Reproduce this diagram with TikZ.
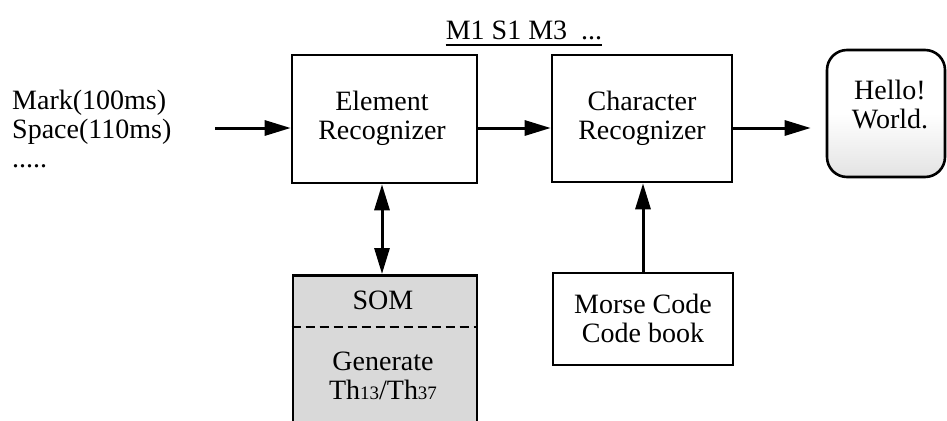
\documentclass[tikz,border=0pt]{standalone}
\usepackage{fontspec}
\setmainfont{Liberation Serif}
\usetikzlibrary{arrows.meta}
\begin{document}
\begin{tikzpicture}[x=1pt,y=-1pt,
  every node/.style={font=\fontsize{28}{29}\selectfont},
  blockbox/.style={draw,line width=2.6pt},
  conn/.style={line width=3pt,-{Triangle[length=26pt,width=15pt]}},
  lbl/.style={inner sep=0pt,align=center}]
\clip (0,0) rectangle (947,420);
\fill[white] (0,0) rectangle (947,420);
% boxes
\node[blockbox,minimum width=185pt,minimum height=128pt,inner sep=0pt] (er) at (384.5,119) {};
\node[blockbox,minimum width=180pt,minimum height=127pt,inner sep=0pt] (cr) at (642,118.5) {};
\node[blockbox,minimum width=180pt,minimum height=92pt,inner sep=0pt] (mc) at (643,319) {};
\node[blockbox,rounded corners=20pt,minimum width=118pt,minimum height=127pt,inner sep=0pt,
  top color=white,bottom color=black!11,middle color=white] (hw) at (886,113.5) {};
\node[blockbox,fill=black!15,minimum width=184pt,minimum height=160pt,inner sep=0pt,anchor=north] (som) at (385,274) {};
\draw[line width=2.4pt,dash pattern=on 9pt off 5pt] (som.west |- 0,327) coordinate (dl) -- (som.east |- 0,327) coordinate (dr);
% texts
\node[lbl] (ert) at (382,118) {Element\\Recognizer};
\node[lbl] (crt) at (642,118) {Character\\Recognizer};
\node[lbl] (hwt) at (890,104) {Hello!\\World.};
\node[lbl] (mct) at (643,318) {Morse Code\\Code book};
\node[lbl] (somt) at (383,300) {SOM};
\node[lbl] (gent) at (383,376) {Generate\\Th{\fontsize{19}{19}\selectfont 13}/Th{\fontsize{19}{19}\selectfont 37}};
\node[lbl,align=left,anchor=north west] (inp) at (12,90) {Mark(100ms)\\Space(110ms)\\.....};
\node[lbl,anchor=base] (seq) at (524,40) {M1 S1 M3 ~...};
\draw[line width=1.6pt] ([yshift=-5pt]seq.base west) -- ([yshift=-5pt]seq.base east);
% connectors
\coordinate (in) at (215,128);
\draw[conn] (in) -- (in -| er.west);
\draw[conn] (er.east |- in) -- (cr.west |- in);
\draw[conn,shorten >=15pt] (cr.east |- in) -- (hw.west |- in);
\draw[line width=3pt,{Triangle[length=26pt,width=15pt]}-{Triangle[length=26pt,width=15pt]}] (er.south -| 382,0) -- (som.north -| 382,0);
\draw[conn] (mc.north) -- (mc.north |- cr.south);
\end{tikzpicture}
\end{document}
